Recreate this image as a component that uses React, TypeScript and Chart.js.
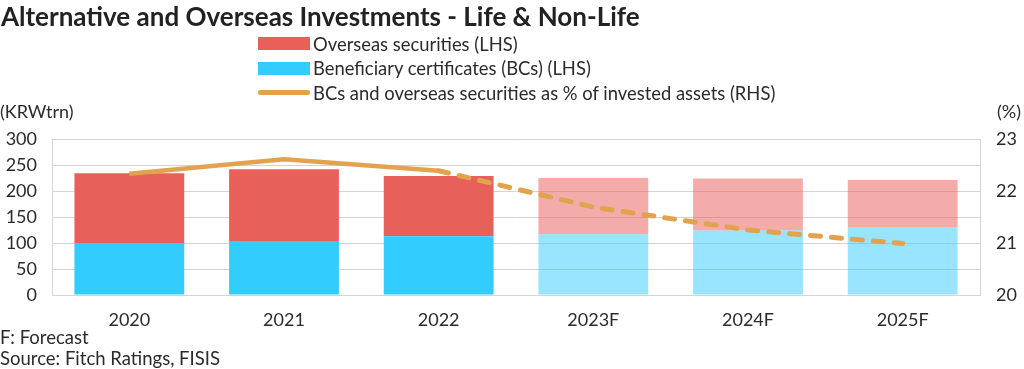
import React, { useEffect, useRef } from "react";
import { Chart, registerables } from "chart.js";

Chart.register(...registerables);

const categories = ["2020", "2021", "2022", "2023F", "2024F", "2025F"];
const bcValues = [100, 104, 113, 117, 124, 131];
const overseasValues = [134, 138, 116, 108, 100, 90];
const ratioValues = [22.33, 22.61, 22.39, 21.69, 21.25, 20.99];
const leftTicks = [0, 50, 100, 150, 200, 250, 300];
const rightTicks = [20, 21, 22, 23];
const forecastFlags = [false, false, false, true, true, true];

const RED = "#E8605A";
const RED_F = "rgba(232,96,90,0.52)";
const BLUE = "#33CCFF";
const BLUE_F = "rgba(51,204,255,0.5)";
const ORANGE = "#E3A24E";
const GRID = "#D4D4D4";
const TEXT = "#2b2b2b";
const FONT = "Lato, 'Open Sans', sans-serif";

export default function App() {
  const ref = useRef<HTMLCanvasElement | null>(null);

  useEffect(() => {
    if (!ref.current) return;
    const chart = new Chart(ref.current, {
      type: "bar",
      data: {
        labels: categories,
        datasets: [
          {
            type: "line",
            label: "BCs and overseas securities as % of invested assets (RHS)",
            data: ratioValues,
            yAxisID: "y1",
            borderColor: ORANGE,
            borderWidth: 4.5,
            pointRadius: 0,
            tension: 0,
            order: 0,
            borderCapStyle: "butt",
            segment: {
              borderDash: (c: any) => (c.p0DataIndex >= 2 ? [10, 11] : undefined),
              borderCapStyle: (c: any) => (c.p0DataIndex >= 2 ? "round" : "butt"),
              borderWidth: (c: any) => (c.p0DataIndex >= 2 ? 5 : 4.5),
            },
          } as any,
          {
            type: "bar",
            label: "Beneficiary certificates (BCs) (LHS)",
            data: bcValues,
            yAxisID: "y",
            backgroundColor: forecastFlags.map((f) => (f ? BLUE_F : BLUE)),
            stack: "s",
            order: 1,
            categoryPercentage: 1,
            barPercentage: 0.71,
          },
          {
            type: "bar",
            label: "Overseas securities (LHS)",
            data: overseasValues,
            yAxisID: "y",
            backgroundColor: forecastFlags.map((f) => (f ? RED_F : RED)),
            stack: "s",
            order: 1,
            categoryPercentage: 1,
            barPercentage: 0.71,
          },
        ],
      },
      options: {
        animation: false,
        responsive: false,
        maintainAspectRatio: false,
        layout: { padding: { top: 139, left: 0, right: 0, bottom: 0 } },
        plugins: {
          legend: { display: false },
          tooltip: { enabled: false },
          title: { display: false },
        },
        scales: {
          x: {
            stacked: true,
            grid: { display: false, drawTicks: false },
            border: { display: true, color: GRID, width: 1 },
            ticks: { color: TEXT, font: { family: FONT, size: 18 }, padding: 14 },
            afterFit: (s: any) => {
              s.height = 74;
            },
          },
          y: {
            stacked: true,
            position: "left",
            min: 0,
            max: 300,
            afterBuildTicks: (s: any) => {
              s.ticks = leftTicks.map((v) => ({ value: v }));
            },
            grid: { color: GRID, lineWidth: 1, drawTicks: false },
            border: { display: true, color: GRID, width: 1 },
            ticks: { color: TEXT, font: { family: FONT, size: 18 }, padding: 15 },
            afterFit: (s: any) => {
              s.width = 52;
            },
          },
          y1: {
            position: "right",
            min: 20,
            max: 23,
            afterBuildTicks: (s: any) => {
              s.ticks = rightTicks.map((v) => ({ value: v }));
            },
            grid: { display: false, drawTicks: false },
            border: { display: true, color: GRID, width: 1 },
            ticks: { color: TEXT, font: { family: FONT, size: 18 }, padding: 16 },
            afterFit: (s: any) => {
              s.width = 44;
            },
          },
        },
      },
    });
    return () => chart.destroy();
  }, []);

  const legendItems = [
    { label: "Overseas securities (LHS)", kind: "bar", color: RED },
    { label: "Beneficiary certificates (BCs) (LHS)", kind: "bar", color: BLUE },
    { label: "BCs and overseas securities as % of invested assets (RHS)", kind: "line", color: ORANGE },
  ];

  const textStyle: React.CSSProperties = {
    position: "absolute",
    fontFamily: FONT,
    color: TEXT,
    whiteSpace: "nowrap",
    lineHeight: 1,
  };

  return (
    <div style={{ position: "absolute", left: 0, top: 0, width: 1024, height: 369, background: "#fff", overflow: "hidden" }}>
      <canvas ref={ref} width={1024} height={369} style={{ position: "absolute", left: 0, top: 0, width: 1024, height: 369 }} />
      <div style={{ ...textStyle, left: 1, top: 3, fontSize: 26, fontWeight: 700, color: "#222" }}>
        Alternative and Overseas Investments - Life &amp; Non-Life
      </div>
      {legendItems.map((it, i) => (
        <div key={i} style={{ ...textStyle, left: 258, top: 34.5 + i * 24.5, fontSize: 18.4, display: "flex", alignItems: "center" }}>
          <span
            style={{
              display: "inline-block",
              width: 52,
              height: it.kind === "bar" ? 13 : 5,
              borderRadius: it.kind === "bar" ? 0 : 3,
              background: it.color,
              marginRight: 3,
            }}
          />
          <span>{it.label}</span>
        </div>
      ))}
      <div style={{ ...textStyle, left: 0, top: 102, fontSize: 18 }}>(KRWtrn)</div>
      <div style={{ ...textStyle, left: 997, top: 102, fontSize: 18 }}>(%)</div>
      <div style={{ ...textStyle, left: 0, top: 328, fontSize: 18.5 }}>F: Forecast</div>
      <div style={{ ...textStyle, left: 0, top: 349, fontSize: 18.5 }}>Source: Fitch Ratings, FISIS</div>
    </div>
  );
}
